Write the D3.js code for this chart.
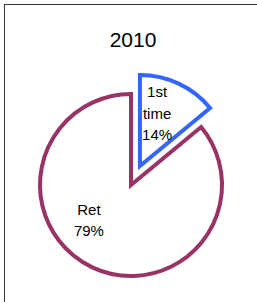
<!DOCTYPE html>
<html>
<head>
<meta charset="utf-8">
<script src="https://cdn.jsdelivr.net/npm/d3@7"></script>
<style>
  html, body { margin: 0; padding: 0; background: #fff; }
  svg { display: block; font-family: 'Liberation Sans', Arial, sans-serif; }
</style>
</head>
<body>
<svg width="257" height="302"></svg>
<script>
// data
const title = '2010';
const categories = ['1st time', 'Ret'];
const shares = [14, 86];          // share of the circle each slice takes
const pctLabels = ['14%', '79%']; // printed labels
const colors = ['#3366ff', '#993366'];

const svg = d3.select('svg');

// frame (only top and left edges are inside the window)
svg.append('rect')
  .attr('x', 4.5).attr('y', 4.5)
  .attr('width', 300).attr('height', 320)
  .attr('fill', 'none')
  .attr('stroke', '#333')
  .attr('stroke-width', 1);

svg.append('text')
  .attr('x', 133)
  .attr('y', 47)
  .attr('text-anchor', 'middle')
  .attr('font-size', 21)
  .attr('fill', '#000')
  .text(title);

const cx = 131, cy = 185, radius = 91;
const explode = [21, 0];
const labelR = 55;
const labelPos = [0.36, 0.58];

const pie = d3.pie().sort(null).value(d => d.v);
const arcs = pie(categories.map((c, i) => ({ c, v: shares[i], i })));
const arc = d3.arc().innerRadius(0).outerRadius(radius);

const g = svg.append('g').attr('transform', `translate(${cx},${cy})`);

const slice = g.selectAll('g.slice').data(arcs).enter().append('g')
  .attr('class', 'slice')
  .attr('transform', d => {
    const mid = (d.startAngle + d.endAngle) / 2;
    const [x, y] = d3.pointRadial(mid, explode[d.data.i]);
    return `translate(${x},${y})`;
  });

slice.append('path')
  .attr('d', arc)
  .attr('fill', '#fff')
  .attr('stroke', d => colors[d.data.i])
  .attr('stroke-width', 4)
  .attr('stroke-linejoin', 'miter');

slice.each(function (d) {
  const a = d.startAngle + (d.endAngle - d.startAngle) * labelPos[d.data.i];
  const [x, y] = d3.pointRadial(a, labelR);
  const lines = d.data.c.split(' ').concat(pctLabels[d.data.i]);
  const lh = 21.5;
  const t = d3.select(this).append('text')
    .attr('text-anchor', 'middle')
    .attr('font-size', 15)
    .attr('fill', '#000');
  lines.forEach((l, k) => {
    t.append('tspan')
      .attr('x', x)
      .attr('y', y + (k - (lines.length - 1) / 2) * lh + 5)
      .text(l);
  });
});
</script>
</body>
</html>
